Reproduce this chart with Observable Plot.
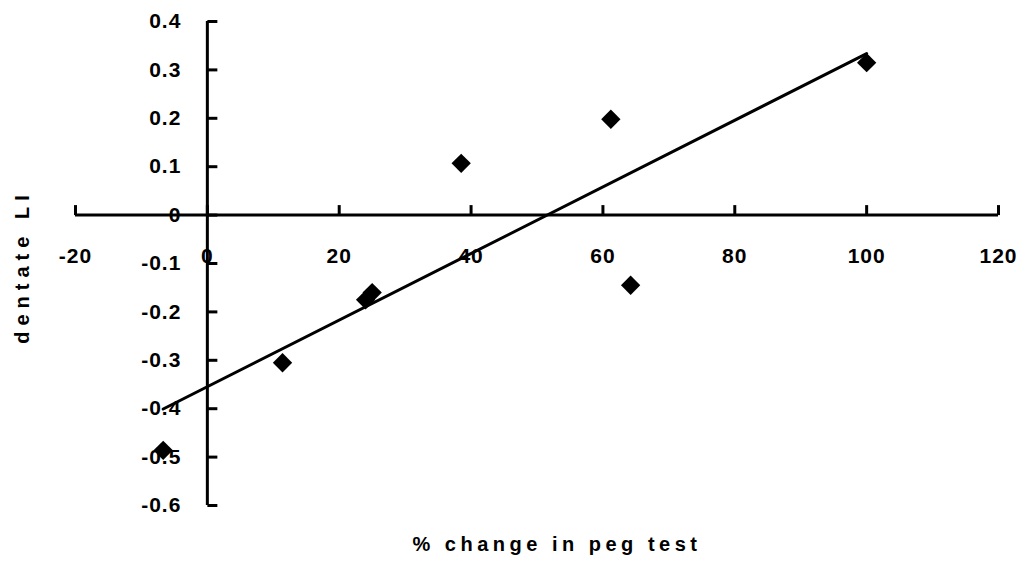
<!DOCTYPE html>
<html>
<head>
<meta charset="utf-8">
<script src="https://cdn.jsdelivr.net/npm/d3@7"></script>
<script src="https://cdn.jsdelivr.net/npm/@observablehq/plot@0.6"></script>
<style>
  html, body { margin: 0; padding: 0; background: #fff; }
  #chart svg { display: block; }
</style>
</head>
<body>
<div id="chart"></div>
<script>
// Data
const pegChange = [-6.7, 11.4, 24.0, 25.0, 38.5, 61.2, 64.2, 100.0];
const dentateLI = [-0.486, -0.305, -0.175, -0.160, 0.107, 0.198, -0.145, 0.315];

const xTickValues = [-20, 0, 20, 40, 60, 80, 100, 120];
const xTickLabels = ["-20", "0", "20", "40", "60", "80", "100", "120"];
const yTickValues = [0.4, 0.3, 0.2, 0.1, 0, -0.1, -0.2, -0.3, -0.4, -0.5, -0.6];
const yTickLabels = ["0.4", "0.3", "0.2", "0.1", "0", "-0.1", "-0.2", "-0.3", "-0.4", "-0.5", "-0.6"];

const xTitle = "% change in peg test";
const yTitle = "dentate LI";

const points = pegChange.map((x, i) => ({x, y: dentateLI[i]}));
const xTicks = xTickValues.map((v, i) => ({v, label: xTickLabels[i]}));
const yTicks = yTickValues.map((v, i) => ({v, label: yTickLabels[i]}));

const tickShape = {
  draw(context, l) { context.moveTo(0, 0); context.lineTo(0, -l); }
};

const chart = Plot.plot({
  width: 1021,
  height: 567,
  marginLeft: 75,
  marginRight: 23,
  marginTop: 21,
  marginBottom: 62,
  x: {domain: [-20, 120], axis: null},
  y: {domain: [-0.6, 0.4], axis: null},
  style: {
    fontFamily: "'Liberation Sans', Arial, sans-serif",
    fontWeight: "bold",
    background: "#fff",
    color: "#000"
  },
  marks: [
    // tick labels (drawn first so lines overlap them as in the reference)
    Plot.text(xTicks, {x: "v", y: 0, dy: 41, text: "label", fontSize: 21, fontWeight: "bold", fill: "black"}),
    Plot.text(yTicks, {x: 0, y: "v", dx: -26, text: "label", textAnchor: "end", fontSize: 21, fontWeight: "bold", fill: "black"}),
    // axis lines crossing at origin
    Plot.ruleY([0], {stroke: "black", strokeWidth: 3}),
    Plot.ruleX([0], {stroke: "black", strokeWidth: 3}),
    // tick marks
    Plot.vector(xTicks, {x: "v", y: 0, length: 10, rotate: 0, anchor: "start", shape: tickShape, stroke: "black", strokeWidth: 3, strokeLinecap: "butt"}),
    Plot.vector(yTicks, {x: 0, y: "v", length: 10, rotate: 90, anchor: "start", shape: tickShape, stroke: "black", strokeWidth: 3, strokeLinecap: "butt"}),
    // regression line
    Plot.linearRegressionY(points, {x: "x", y: "y", ci: 0, stroke: "black", strokeWidth: 3}),
    // data points
    Plot.dot(points, {x: "x", y: "y", symbol: "diamond2", r: 8.7, fill: "black", stroke: "none"}),
    // axis titles
    Plot.text([xTitle], {frameAnchor: "bottom", dx: 20, dy: 45, text: d => d, fontSize: 20, fontWeight: "bold", fill: "black"}),
    Plot.text([yTitle], {frameAnchor: "left", textAnchor: "middle", dx: -53, dy: 3, rotate: -90, text: d => d, fontSize: 20, fontWeight: "bold", fill: "black"})
  ]
});

const svg = d3.select(chart);
svg.selectAll("text").filter(function() { return this.textContent === xTitle; }).style("letter-spacing", "4.5px");
svg.selectAll("text").filter(function() { return this.textContent === yTitle; }).style("letter-spacing", "6px");
svg.selectAll("text").filter(function() { return xTickLabels.includes(this.textContent) || yTickLabels.includes(this.textContent); }).style("letter-spacing", "1px");

document.getElementById("chart").appendChild(chart);
</script>
</body>
</html>
